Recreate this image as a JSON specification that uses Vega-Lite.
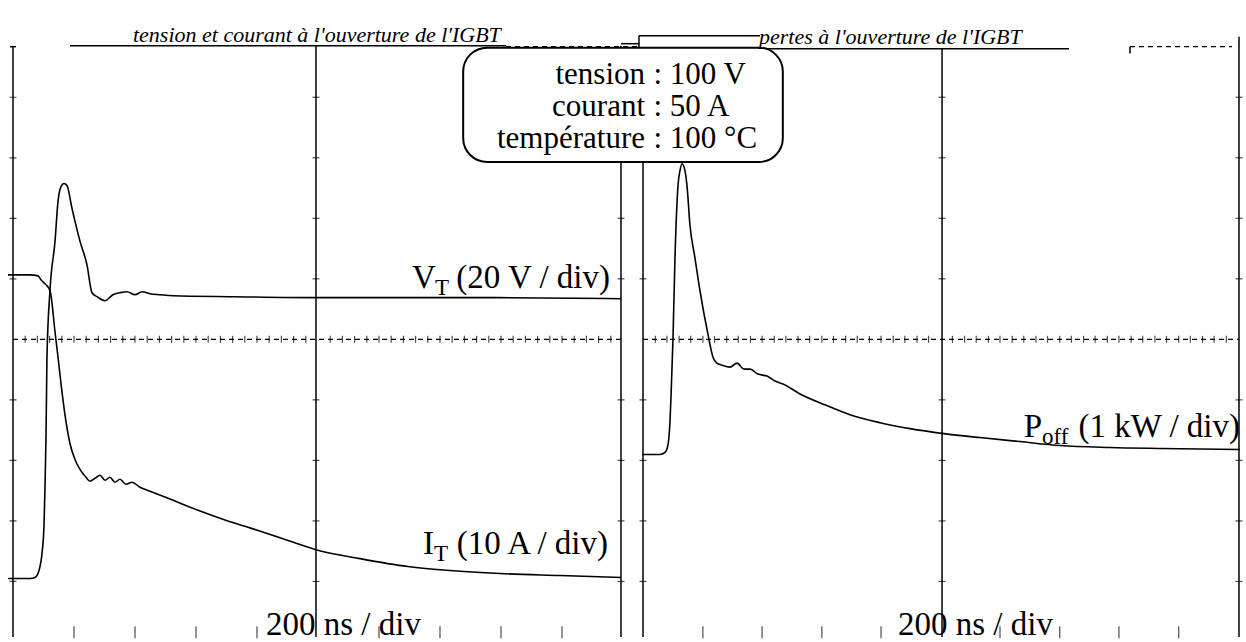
{
  "$schema": "https://vega.github.io/schema/vega-lite/v6.json",
  "width": 1246,
  "height": 642,
  "padding": 0,
  "autosize": {"type": "fit", "contains": "padding"},
  "background": "white",
  "config": {"view": {"stroke": null}},
  "datasets": {
    "traces": [
      {"s": "VT", "x": -0.082, "y": -3.951}, {"s": "VT", "x": 0.279, "y": -3.951}, {"s": "VT", "x": 0.361, "y": -3.934}, {"s": "VT", "x": 0.426, "y": -3.82}, {"s": "VT", "x": 0.475, "y": -3.541}, {"s": "VT", "x": 0.508, "y": -3.082}, {"s": "VT", "x": 0.525, "y": -2.426}, {"s": "VT", "x": 0.541, "y": -1.607}, {"s": "VT", "x": 0.549, "y": -0.951}, {"s": "VT", "x": 0.557, "y": -0.295}, {"s": "VT", "x": 0.607, "y": 0.82}, {"s": "VT", "x": 0.689, "y": 1.623}, {"s": "VT", "x": 0.738, "y": 2.279}, {"s": "VT", "x": 0.787, "y": 2.525}, {"s": "VT", "x": 0.836, "y": 2.574}, {"s": "VT", "x": 0.885, "y": 2.541}, {"s": "VT", "x": 0.967, "y": 2.164}, {"s": "VT", "x": 1.098, "y": 1.623}, {"s": "VT", "x": 1.213, "y": 1.23}, {"s": "VT", "x": 1.295, "y": 0.77}, {"s": "VT", "x": 1.377, "y": 0.705}, {"s": "VT", "x": 1.508, "y": 0.639}, {"s": "VT", "x": 1.639, "y": 0.738}, {"s": "VT", "x": 1.754, "y": 0.77}, {"s": "VT", "x": 1.869, "y": 0.787}, {"s": "VT", "x": 2.0, "y": 0.738}, {"s": "VT", "x": 2.115, "y": 0.787}, {"s": "VT", "x": 2.246, "y": 0.754}, {"s": "VT", "x": 2.41, "y": 0.738}, {"s": "VT", "x": 2.623, "y": 0.721}, {"s": "VT", "x": 3.607, "y": 0.705}, {"s": "VT", "x": 4.984, "y": 0.689}, {"s": "VT", "x": 6.344, "y": 0.689}, {"s": "VT", "x": 7.984, "y": 0.689}, {"s": "VT", "x": 9.967, "y": 0.672},
      {"s": "IT", "x": -0.082, "y": 1.066}, {"s": "IT", "x": 0.279, "y": 1.066}, {"s": "IT", "x": 0.41, "y": 1.049}, {"s": "IT", "x": 0.459, "y": 0.984}, {"s": "IT", "x": 0.508, "y": 0.934}, {"s": "IT", "x": 0.557, "y": 0.885}, {"s": "IT", "x": 0.607, "y": 0.803}, {"s": "IT", "x": 0.639, "y": 0.607}, {"s": "IT", "x": 0.672, "y": 0.279}, {"s": "IT", "x": 0.738, "y": -0.295}, {"s": "IT", "x": 0.803, "y": -0.869}, {"s": "IT", "x": 0.869, "y": -1.361}, {"s": "IT", "x": 0.934, "y": -1.721}, {"s": "IT", "x": 1.016, "y": -1.984}, {"s": "IT", "x": 1.098, "y": -2.148}, {"s": "IT", "x": 1.197, "y": -2.279}, {"s": "IT", "x": 1.262, "y": -2.344}, {"s": "IT", "x": 1.344, "y": -2.295}, {"s": "IT", "x": 1.426, "y": -2.246}, {"s": "IT", "x": 1.508, "y": -2.328}, {"s": "IT", "x": 1.59, "y": -2.279}, {"s": "IT", "x": 1.672, "y": -2.361}, {"s": "IT", "x": 1.754, "y": -2.311}, {"s": "IT", "x": 1.852, "y": -2.393}, {"s": "IT", "x": 1.951, "y": -2.361}, {"s": "IT", "x": 2.082, "y": -2.443}, {"s": "IT", "x": 2.246, "y": -2.508}, {"s": "IT", "x": 2.656, "y": -2.672}, {"s": "IT", "x": 3.066, "y": -2.836}, {"s": "IT", "x": 3.475, "y": -2.984}, {"s": "IT", "x": 3.885, "y": -3.115}, {"s": "IT", "x": 4.377, "y": -3.279}, {"s": "IT", "x": 4.967, "y": -3.475}, {"s": "IT", "x": 5.689, "y": -3.623}, {"s": "IT", "x": 6.475, "y": -3.754}, {"s": "IT", "x": 7.164, "y": -3.82}, {"s": "IT", "x": 7.984, "y": -3.869}, {"s": "IT", "x": 8.967, "y": -3.902}, {"s": "IT", "x": 9.967, "y": -3.934},
      {"s": "Poff", "x": 10.311, "y": -1.902}, {"s": "Poff", "x": 10.607, "y": -1.902}, {"s": "Poff", "x": 10.689, "y": -1.869}, {"s": "Poff", "x": 10.738, "y": -1.738}, {"s": "Poff", "x": 10.77, "y": -1.361}, {"s": "Poff", "x": 10.787, "y": -0.951}, {"s": "Poff", "x": 10.82, "y": 0.033}, {"s": "Poff", "x": 10.852, "y": 1.344}, {"s": "Poff", "x": 10.902, "y": 2.541}, {"s": "Poff", "x": 10.934, "y": 2.787}, {"s": "Poff", "x": 10.967, "y": 2.902}, {"s": "Poff", "x": 11.0, "y": 2.852}, {"s": "Poff", "x": 11.049, "y": 2.541}, {"s": "Poff", "x": 11.098, "y": 1.885}, {"s": "Poff", "x": 11.18, "y": 1.344}, {"s": "Poff", "x": 11.262, "y": 0.803}, {"s": "Poff", "x": 11.393, "y": 0.082}, {"s": "Poff", "x": 11.475, "y": -0.295}, {"s": "Poff", "x": 11.541, "y": -0.393}, {"s": "Poff", "x": 11.623, "y": -0.426}, {"s": "Poff", "x": 11.754, "y": -0.459}, {"s": "Poff", "x": 11.869, "y": -0.393}, {"s": "Poff", "x": 11.984, "y": -0.492}, {"s": "Poff", "x": 12.082, "y": -0.492}, {"s": "Poff", "x": 12.213, "y": -0.574}, {"s": "Poff", "x": 12.361, "y": -0.607}, {"s": "Poff", "x": 12.492, "y": -0.689}, {"s": "Poff", "x": 12.623, "y": -0.738}, {"s": "Poff", "x": 12.902, "y": -0.902}, {"s": "Poff", "x": 13.311, "y": -1.082}, {"s": "Poff", "x": 13.721, "y": -1.246}, {"s": "Poff", "x": 14.213, "y": -1.377}, {"s": "Poff", "x": 14.705, "y": -1.475}, {"s": "Poff", "x": 15.262, "y": -1.557}, {"s": "Poff", "x": 15.852, "y": -1.623}, {"s": "Poff", "x": 16.508, "y": -1.689}, {"s": "Poff", "x": 17.164, "y": -1.754}, {"s": "Poff", "x": 17.984, "y": -1.787}, {"s": "Poff", "x": 18.803, "y": -1.803}, {"s": "Poff", "x": 20.115, "y": -1.82}
    ],
    "solid": [
      {"x": 0, "x2": 0, "y": 4.836, "y2": -4.918},
      {"x": 9.967, "x2": 9.967, "y": 4.852, "y2": -4.918},
      {"x": 4.967, "x2": 4.967, "y": 4.852, "y2": -4.918},
      {"x": 10.328, "x2": 10.328, "y": 4.803, "y2": -4.918},
      {"x": 15.23, "x2": 15.23, "y": 4.803, "y2": -4.918},
      {"x": 20.098, "x2": 20.098, "y": 5.0, "y2": -4.918},
      {"x": -0.05, "x2": 0.05, "y": 4.836, "y2": 4.836},
      {"x": 0.934, "x2": 8.082, "y": 4.852, "y2": 4.852},
      {"x": 9.967, "x2": 10.262, "y": 4.885, "y2": 4.885},
      {"x": 10.262, "x2": 12.246, "y": 5.016, "y2": 5.016},
      {"x": 10.262, "x2": 10.262, "y": 5.016, "y2": 4.803},
      {"x": 10.262, "x2": 17.311, "y": 4.803, "y2": 4.803},
      {"x": 18.311, "x2": 18.311, "y": 4.836, "y2": 4.721}
    ],
    "dashed": [
      {"x": 0, "x2": 9.967, "y": 0, "y2": 0},
      {"x": 10.328, "x2": 20.098, "y": 0, "y2": 0},
      {"x": 8.082, "x2": 10.23, "y": 4.836, "y2": 4.836},
      {"x": 18.311, "x2": 19.984, "y": 4.836, "y2": 4.836}
    ],
    "hticks": [
      {"x": 0.2, "y": 0}, {"x": 0.4, "y": 0}, {"x": 0.6, "y": 0}, {"x": 0.8, "y": 0}, {"x": 1.0, "y": 0}, {"x": 1.2, "y": 0}, {"x": 1.4, "y": 0}, {"x": 1.6, "y": 0}, {"x": 1.8, "y": 0}, {"x": 2.0, "y": 0}, {"x": 2.2, "y": 0}, {"x": 2.4, "y": 0}, {"x": 2.6, "y": 0}, {"x": 2.8, "y": 0}, {"x": 3.0, "y": 0}, {"x": 3.2, "y": 0}, {"x": 3.4, "y": 0}, {"x": 3.6, "y": 0}, {"x": 3.8, "y": 0}, {"x": 4.0, "y": 0}, {"x": 4.2, "y": 0}, {"x": 4.4, "y": 0}, {"x": 4.6, "y": 0}, {"x": 4.8, "y": 0}, {"x": 5.2, "y": 0}, {"x": 5.4, "y": 0}, {"x": 5.6, "y": 0}, {"x": 5.8, "y": 0}, {"x": 6.0, "y": 0}, {"x": 6.2, "y": 0}, {"x": 6.4, "y": 0}, {"x": 6.6, "y": 0}, {"x": 6.8, "y": 0}, {"x": 7.0, "y": 0}, {"x": 7.2, "y": 0}, {"x": 7.4, "y": 0}, {"x": 7.6, "y": 0}, {"x": 7.8, "y": 0}, {"x": 8.0, "y": 0}, {"x": 8.2, "y": 0}, {"x": 8.4, "y": 0}, {"x": 8.6, "y": 0}, {"x": 8.8, "y": 0}, {"x": 9.0, "y": 0}, {"x": 9.2, "y": 0}, {"x": 9.4, "y": 0}, {"x": 9.6, "y": 0}, {"x": 9.8, "y": 0},
      {"x": 10.53, "y": 0}, {"x": 10.72, "y": 0}, {"x": 10.92, "y": 0}, {"x": 11.11, "y": 0}, {"x": 11.31, "y": 0}, {"x": 11.5, "y": 0}, {"x": 11.7, "y": 0}, {"x": 11.89, "y": 0}, {"x": 12.09, "y": 0}, {"x": 12.28, "y": 0}, {"x": 12.48, "y": 0}, {"x": 12.67, "y": 0}, {"x": 12.87, "y": 0}, {"x": 13.06, "y": 0}, {"x": 13.26, "y": 0}, {"x": 13.45, "y": 0}, {"x": 13.65, "y": 0}, {"x": 13.84, "y": 0}, {"x": 14.04, "y": 0}, {"x": 14.23, "y": 0}, {"x": 14.43, "y": 0}, {"x": 14.62, "y": 0}, {"x": 14.82, "y": 0}, {"x": 15.01, "y": 0}, {"x": 15.4, "y": 0}, {"x": 15.6, "y": 0}, {"x": 15.79, "y": 0}, {"x": 15.99, "y": 0}, {"x": 16.18, "y": 0}, {"x": 16.38, "y": 0}, {"x": 16.57, "y": 0}, {"x": 16.77, "y": 0}, {"x": 16.96, "y": 0}, {"x": 17.16, "y": 0}, {"x": 17.35, "y": 0}, {"x": 17.55, "y": 0}, {"x": 17.74, "y": 0}, {"x": 17.94, "y": 0}, {"x": 18.13, "y": 0}, {"x": 18.33, "y": 0}, {"x": 18.52, "y": 0}, {"x": 18.72, "y": 0}, {"x": 18.91, "y": 0}, {"x": 19.11, "y": 0}, {"x": 19.3, "y": 0}, {"x": 19.5, "y": 0}, {"x": 19.69, "y": 0}, {"x": 19.89, "y": 0}
    ],
    "bticks": [
      {"x": 1, "y": -4.84}, {"x": 2, "y": -4.84}, {"x": 3, "y": -4.84}, {"x": 4, "y": -4.84}, {"x": 6, "y": -4.84}, {"x": 7, "y": -4.84}, {"x": 8, "y": -4.84}, {"x": 9, "y": -4.84},
      {"x": 11.31, "y": -4.84}, {"x": 12.28, "y": -4.84}, {"x": 13.26, "y": -4.84}, {"x": 14.23, "y": -4.84}, {"x": 16.18, "y": -4.84}, {"x": 17.16, "y": -4.84}, {"x": 18.13, "y": -4.84}, {"x": 19.11, "y": -4.84}
    ],
    "vticks": [
      {"x": 0, "y": 4}, {"x": 0, "y": 3}, {"x": 0, "y": 2}, {"x": 0, "y": 1}, {"x": 0, "y": -1}, {"x": 0, "y": -2}, {"x": 0, "y": -3}, {"x": 0, "y": -4},
      {"x": 4.967, "y": 4}, {"x": 4.967, "y": 3}, {"x": 4.967, "y": 2}, {"x": 4.967, "y": 1}, {"x": 4.967, "y": -1}, {"x": 4.967, "y": -2}, {"x": 4.967, "y": -3}, {"x": 4.967, "y": -4},
      {"x": 9.967, "y": 3}, {"x": 9.967, "y": 2}, {"x": 9.967, "y": 1}, {"x": 9.967, "y": -1}, {"x": 9.967, "y": -2}, {"x": 9.967, "y": -3}, {"x": 9.967, "y": -4},
      {"x": 10.328, "y": 1}, {"x": 10.328, "y": -1}, {"x": 10.328, "y": -2}, {"x": 10.328, "y": -3}, {"x": 10.328, "y": -4},
      {"x": 15.23, "y": 4}, {"x": 15.23, "y": 3}, {"x": 15.23, "y": 2}, {"x": 15.23, "y": 1}, {"x": 15.23, "y": -1}, {"x": 15.23, "y": -2}, {"x": 15.23, "y": -3}, {"x": 15.23, "y": -4},
      {"x": 20.098, "y": 4}, {"x": 20.098, "y": 3}, {"x": 20.098, "y": 2}, {"x": 20.098, "y": 1}, {"x": 20.098, "y": -1}, {"x": 20.098, "y": -2}, {"x": 20.098, "y": -3}, {"x": 20.098, "y": -4}
    ],
    "box": [{"x": 7.38, "x2": 12.62, "y": 4.82, "y2": 2.93}],
    "boxRight": [
      {"x": 10.361, "y": 4.213, "text": "tension"},
      {"x": 10.361, "y": 3.689, "text": "courant"},
      {"x": 10.361, "y": 3.164, "text": "température"}
    ],
    "boxLeft": [
      {"x": 10.5, "y": 4.213, "text": ": 100 V"},
      {"x": 10.5, "y": 3.689, "text": ": 50 A"},
      {"x": 10.5, "y": 3.164, "text": ": 100 °C"}
    ],
    "textRight": [
      {"x": 9.787, "y": 0.852, "text": "(20 V / div)"},
      {"x": 9.754, "y": -3.541, "text": "(10 A / div)"},
      {"x": 20.115, "y": -1.607, "text": "(1 kW / div)"}
    ],
    "textLeft": [
      {"x": 6.54, "y": 0.852, "text": "V"},
      {"x": 6.72, "y": -3.541, "text": "I"},
      {"x": 16.57, "y": -1.607, "text": "P"},
      {"x": 4.148, "y": -4.885, "text": "200 ns / div"},
      {"x": 14.508, "y": -4.885, "text": "200 ns / div"}
    ],
    "textSub": [
      {"x": 6.92, "y": 0.738, "text": "T"},
      {"x": 6.9, "y": -3.656, "text": "T"},
      {"x": 16.87, "y": -1.721, "text": "off"}
    ],
    "titles": [
      {"x": 1.967, "y": 4.918, "text": "tension et courant à l'ouverture de l'IGBT"},
      {"x": 12.23, "y": 4.885, "text": "pertes à l'ouverture de l'IGBT"}
    ]
  },
  "encoding": {
    "x": {"field": "x", "type": "quantitative", "scale": {"domain": [-0.213, 20.213], "nice": false, "zero": false}, "axis": null},
    "y": {"field": "y", "type": "quantitative", "scale": {"domain": [-4.918, 5.607], "nice": false, "zero": false}, "axis": null}
  },
  "layer": [
    {
      "data": {"name": "solid"},
      "mark": {"type": "rule", "color": "black", "strokeWidth": 1.5},
      "encoding": {"x2": {"field": "x2"}, "y2": {"field": "y2"}}
    },
    {
      "data": {"name": "dashed"},
      "mark": {"type": "rule", "color": "black", "strokeWidth": 1.2, "strokeDash": [5, 4]},
      "encoding": {"x2": {"field": "x2"}, "y2": {"field": "y2"}}
    },
    {
      "data": {"name": "hticks"},
      "mark": {"type": "tick", "orient": "vertical", "color": "black", "size": 7, "thickness": 1.2}
    },
    {
      "data": {"name": "bticks"},
      "mark": {"type": "tick", "orient": "vertical", "color": "black", "size": 12, "thickness": 1.2}
    },
    {
      "data": {"name": "vticks"},
      "mark": {"type": "tick", "orient": "horizontal", "color": "black", "size": 7, "thickness": 1.2}
    },
    {
      "data": {"name": "traces"},
      "mark": {"type": "line", "color": "black", "strokeWidth": 1.6, "interpolate": "monotone"},
      "encoding": {"detail": {"field": "s"}}
    },
    {
      "data": {"name": "box"},
      "mark": {"type": "rect", "fill": "white", "stroke": "black", "strokeWidth": 2, "cornerRadius": 24},
      "encoding": {"x2": {"field": "x2"}, "y2": {"field": "y2"}}
    },
    {
      "data": {"name": "boxRight"},
      "mark": {"type": "text", "align": "right", "baseline": "alphabetic", "font": "Liberation Serif", "fontSize": 31, "color": "black"},
      "encoding": {"text": {"field": "text"}}
    },
    {
      "data": {"name": "boxLeft"},
      "mark": {"type": "text", "align": "left", "baseline": "alphabetic", "font": "Liberation Serif", "fontSize": 31, "color": "black"},
      "encoding": {"text": {"field": "text"}}
    },
    {
      "data": {"name": "textRight"},
      "mark": {"type": "text", "align": "right", "baseline": "alphabetic", "font": "Liberation Serif", "fontSize": 33, "color": "black"},
      "encoding": {"text": {"field": "text"}}
    },
    {
      "data": {"name": "textLeft"},
      "mark": {"type": "text", "align": "left", "baseline": "alphabetic", "font": "Liberation Serif", "fontSize": 33, "color": "black"},
      "encoding": {"text": {"field": "text"}}
    },
    {
      "data": {"name": "textSub"},
      "mark": {"type": "text", "align": "left", "baseline": "alphabetic", "font": "Liberation Serif", "fontSize": 23, "color": "black"},
      "encoding": {"text": {"field": "text"}}
    },
    {
      "data": {"name": "titles"},
      "mark": {"type": "text", "align": "left", "baseline": "alphabetic", "font": "Liberation Serif", "fontStyle": "italic", "fontSize": 22, "color": "black"},
      "encoding": {"text": {"field": "text"}}
    }
  ]
}
